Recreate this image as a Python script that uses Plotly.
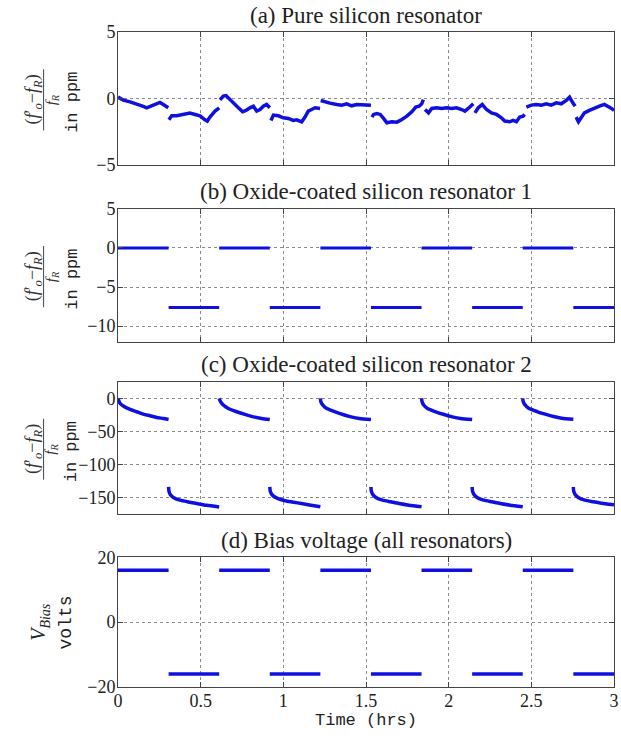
import plotly.graph_objects as go

# ---------------- data ----------------
switch_times = [0, 0.306, 0.612, 0.918, 1.224, 1.53, 1.836, 2.142, 2.448, 2.754, 3.0]

# (a) pure silicon resonator, read per segment
a_times = [
    [0, .032, .073, .113, .153, .173, .194, .214, .234, .254, .274, .304],
    [.308, .325, .355, .385, .415, .435, .466, .496, .526, .540, .556, .587, .612],
    [.617, .637, .653, .677, .698, .728, .754, .774, .798, .819, .839, .859, .879, .899, .918],
    [.925, .940, .970, 1.0, 1.03, 1.06, 1.081, 1.111, 1.131, 1.151, 1.171, 1.192, 1.222],
    [1.226, 1.252, 1.282, 1.323, 1.353, 1.383, 1.413, 1.444, 1.474, 1.504, 1.53],
    [1.536, 1.546, 1.566, 1.586, 1.606, 1.626, 1.657, 1.687, 1.717, 1.747, 1.777, 1.801, 1.821, 1.837, 1.847],
    [1.857, 1.878, 1.898, 1.928, 1.958, 1.988, 2.018, 2.048, 2.078, 2.098, 2.118, 2.139, 2.149],
    [2.159, 2.179, 2.203, 2.229, 2.259, 2.289, 2.319, 2.339, 2.369, 2.389, 2.41, 2.43, 2.45, 2.46],
    [2.47, 2.5, 2.53, 2.56, 2.59, 2.62, 2.651, 2.681, 2.711, 2.731, 2.751, 2.765],
    [2.771, 2.785, 2.801, 2.821, 2.851, 2.882, 2.912, 2.942, 2.966, 2.985, 3.0],
]
a_values = [
    [0.1, -0.12, -0.25, -0.4, -0.6, -0.7, -0.6, -0.55, -0.4, -0.3, -0.45, -0.7],
    [-1.6, -1.3, -1.3, -1.2, -1.1, -1.1, -1.2, -1.3, -1.6, -1.7, -1.4, -0.95, -0.7],
    [-0.1, 0.18, 0.22, -0.08, -0.4, -0.7, -1.0, -0.9, -0.7, -0.58, -0.95, -0.83, -0.58, -0.45, -0.7],
    [-1.65, -1.25, -1.3, -1.45, -1.5, -1.65, -1.6, -1.75, -1.4, -0.95, -0.83, -0.7, -0.75],
    [-0.15, -0.25, -0.35, -0.45, -0.5, -0.4, -0.55, -0.45, -0.45, -0.5, -0.5],
    [-1.4, -1.2, -1.13, -1.2, -1.5, -1.83, -1.75, -1.78, -1.58, -1.33, -1.0, -0.65, -0.58, -0.4, -0.08],
    [-0.83, -1.08, -0.75, -0.7, -0.75, -0.7, -0.75, -0.7, -0.83, -0.95, -0.75, -0.5, -0.4],
    [-1.08, -0.7, -0.45, -0.83, -1.08, -1.2, -1.45, -1.7, -1.75, -1.65, -1.75, -1.4, -1.33, -1.2],
    [-0.65, -0.5, -0.45, -0.5, -0.4, -0.5, -0.33, -0.4, -0.15, 0.1, -0.33, -0.58],
    [-1.4, -1.75, -1.45, -1.08, -0.9, -0.7, -0.58, -0.45, -0.58, -0.75, -0.9],
]

# (b) oxide-coated resonator 1: level per half-cycle
b_levels = [0, -7.6, 0, -7.6, 0, -7.6, 0, -7.6, 0, -7.6]

# (c) oxide-coated resonator 2, read per segment
c_times = [
    [0, .012, .032, .073, .113, .153, .194, .234, .274, .306],
    [.306, .308, .315, .335, .375, .425, .476, .536, .612],
    [.612, .62, .637, .667, .718, .768, .819, .869, .918],
    [.918, .922, .938, .968, 1.018, 1.078, 1.158, 1.224],
    [1.224, 1.227, 1.238, 1.26, 1.31, 1.36, 1.41, 1.46, 1.53],
    [1.53, 1.532, 1.54, 1.56, 1.6, 1.65, 1.7, 1.76, 1.836],
    [1.836, 1.839, 1.85, 1.872, 1.922, 1.972, 2.022, 2.072, 2.142],
    [2.142, 2.144, 2.152, 2.172, 2.212, 2.262, 2.312, 2.372, 2.448],
    [2.448, 2.451, 2.462, 2.484, 2.534, 2.584, 2.634, 2.684, 2.754],
    [2.754, 2.756, 2.764, 2.784, 2.824, 2.874, 2.924, 2.97, 3.0],
]
c_values = [
    [0, -7.6, -11.7, -16.8, -20.3, -23.9, -26.4, -29, -30.5, -32],
    [-134, -140, -145, -150, -154, -156.7, -159, -161.7, -164.3],
    [0, -5, -10.2, -15.3, -20.3, -24.4, -28, -30.5, -32],
    [-133.8, -141.4, -147.5, -151.6, -155.1, -157.7, -161.2, -163.8],
    [0, -5, -10, -15, -20, -24.5, -28, -30.5, -32],
    [-134, -140, -145, -150, -154, -156.5, -159, -161.5, -164],
    [0, -5, -10.5, -15.5, -20.5, -24.5, -28, -30.5, -32],
    [-134, -140, -145, -150, -154, -156.5, -159, -161.5, -164],
    [0, -5, -10, -15, -20, -24, -27.5, -30, -31.5],
    [-134, -140, -145, -150, -154, -156.5, -158.5, -160, -161],
]

# (d) bias voltage per half-cycle
d_levels = [16, -16, 16, -16, 16, -16, 16, -16, 16, -16]

x_ticks = [0, 0.5, 1, 1.5, 2, 2.5, 3]
x_ticklabels = ["0", "0.5", "1", "1.5", "2", "2.5", "3"]
y_ticks = [[-5, 0, 5], [-10, -5, 0, 5], [-150, -100, -50, 0], [-20, 0, 20]]
y_ranges = [[-5, 5], [-12, 5], [-175, 25], [-20, 20]]
titles = ["(a) Pure silicon resonator", "(b) Oxide-coated silicon resonator 1",
          "(c) Oxide-coated silicon resonator 2", "(d) Bias voltage (all resonators)"]

# ---------------- build ----------------
BLUE = "#0f0fe0"
SERIF = "Liberation Serif, Times New Roman, serif"
MONO = "Liberation Mono, Courier New, monospace"


def join_segments(ts, vs):
    xs, ys = [], []
    for t, v in zip(ts, vs):
        xs += list(t) + [None]
        ys += list(v) + [None]
    return xs, ys


def level_segments(levels):
    ts = [[switch_times[i], switch_times[i + 1]] for i in range(len(levels))]
    vs = [[lv, lv] for lv in levels]
    return join_segments(ts, vs)


fig = go.Figure()
xa, ya = join_segments(a_times, a_values)
fig.add_trace(go.Scatter(x=xa, y=ya, mode="lines", line=dict(color=BLUE, width=3.5),
                         xaxis="x", yaxis="y"))
xb, yb = level_segments(b_levels)
fig.add_trace(go.Scatter(x=xb, y=yb, mode="lines", line=dict(color=BLUE, width=3),
                         xaxis="x2", yaxis="y2"))
xc, yc = join_segments(c_times, c_values)
fig.add_trace(go.Scatter(x=xc, y=yc, mode="lines",
                         line=dict(color=BLUE, width=3.5, shape="spline", smoothing=0.6),
                         xaxis="x3", yaxis="y3"))
xd, yd = level_segments(d_levels)
fig.add_trace(go.Scatter(x=xd, y=yd, mode="lines", line=dict(color=BLUE, width=3.5),
                         xaxis="x4", yaxis="y4"))

domains = [[0.797, 1.0], [0.527, 0.730], [0.264, 0.466], [0.0, 0.198]]

axis_common = dict(showline=True, linecolor="#444", linewidth=1, mirror="ticks",
                   ticks="inside", ticklen=5, tickcolor="#444",
                   showgrid=True, gridcolor="#8a8a8a", griddash="dot", gridwidth=1,
                   zeroline=False, tickfont=dict(family=SERIF, size=18, color="#222"))

layout = dict(width=621, height=736, margin=dict(l=118, r=2, t=32, b=49),
              paper_bgcolor="white", plot_bgcolor="white", showlegend=False)
annotations = []
shapes = []
for i in range(4):
    sx = "" if i == 0 else str(i + 1)
    xaxis = dict(axis_common, range=[0, 3], tickvals=x_ticks, ticktext=x_ticklabels,
                 anchor="y" + sx, showticklabels=(i == 3), ticklabeloverflow="allow",
                 ticklabelstandoff=-3)
    if i > 0:
        xaxis["matches"] = "x"
    yaxis = dict(axis_common, range=y_ranges[i], tickvals=y_ticks[i],
                 domain=domains[i], anchor="x" + sx, ticklabelstandoff=-2)
    layout["xaxis" + sx] = xaxis
    layout["yaxis" + sx] = yaxis
    annotations.append(dict(text=titles[i], xref="paper", x=0.5, yref="y" + sx + " domain",
                            y=1, yanchor="middle", yshift=17, showarrow=False,
                            font=dict(family=SERIF, size=23, color="#222")))

# y-axis labels (fraction drawn as numerator / bar / denominator)
num = "(<i>f</i>′<sub><i>o</i></sub>−<i>f</i><sub><i>R</i></sub>)"
den = "<i>f</i><sub><i>R</i></sub>"
for i in range(3):
    sx = "" if i == 0 else str(i + 1)
    yref = "y" + sx + " domain"
    annotations.append(dict(text=num, xref="paper", x=-0.170, yref=yref, y=0.49,
                            textangle=-90, showarrow=False, xanchor="center", yanchor="middle",
                            font=dict(family=SERIF, size=18, color="#333")))
    annotations.append(dict(text=den, xref="paper", x=-0.134, yref=yref, y=0.49,
                            textangle=-90, showarrow=False, xanchor="center", yanchor="middle",
                            font=dict(family=SERIF, size=15, color="#333")))
    annotations.append(dict(text="in ppm", xref="paper", x=-0.092, yref=yref, y=0.47,
                            textangle=-90, showarrow=False, xanchor="center", yanchor="middle",
                            font=dict(family=MONO, size=17, color="#222")))
    shapes.append(dict(type="line", xref="paper", yref=yref, x0=-0.150, x1=-0.150,
                       y0=0.26, y1=0.72, line=dict(color="#444", width=1)))

annotations.append(dict(text="<i>V</i><sub><i>Bias</i></sub>", xref="paper", x=-0.158,
                        yref="y4 domain", y=0.5, textangle=-90, showarrow=False,
                        xanchor="center", yanchor="middle",
                        font=dict(family=SERIF, size=20, color="#222")))
annotations.append(dict(text="volts", xref="paper", x=-0.104, yref="y4 domain", y=0.5,
                        textangle=-90, showarrow=False, xanchor="center", yanchor="middle",
                        font=dict(family=MONO, size=18, color="#222")))
annotations.append(dict(text="Time (hrs)", xref="paper", x=0.5, yref="paper", y=0,
                        yshift=-33, yanchor="middle", showarrow=False,
                        font=dict(family=MONO, size=17, color="#222")))

layout["annotations"] = annotations
layout["shapes"] = shapes
fig.update_layout(**layout)
fig.write_html("out.html")
